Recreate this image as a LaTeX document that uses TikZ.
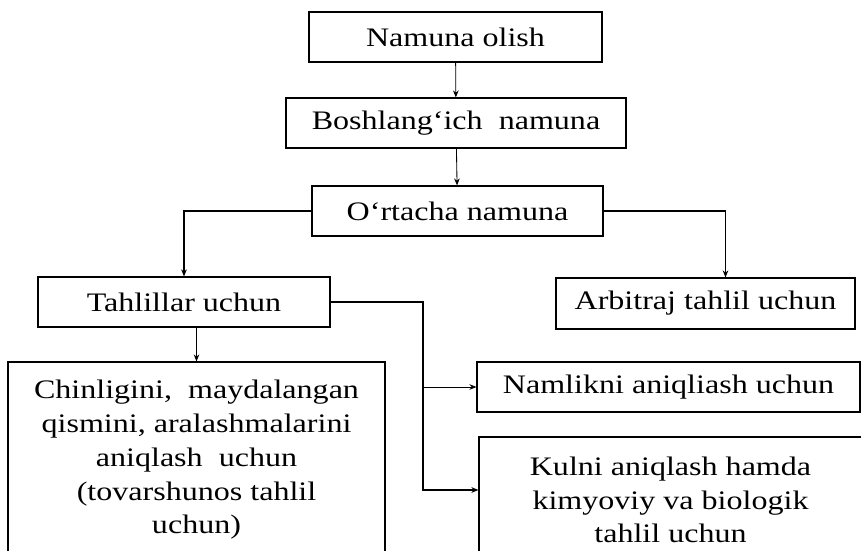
\documentclass[tikz,border=0pt]{standalone}
\usepackage{fontspec}
\setmainfont[FakeStretch=1.2]{Liberation Serif}
\usepackage{tikz}
\usetikzlibrary{arrows.meta}
\tikzset{
    boxnode/.style = {align=center, inner sep=0pt, text centered},
    step_box/.style = {boxnode, rectangle, draw=black, line width=0.8pt, minimum height=1.25cm,
                       font=\fontsize{19}{24}\selectfont},
    thin_link/.style = {->, line width=0.6pt},
    thick_link/.style = {->, line width=1.4pt}
}

\begin{document}
\begin{tikzpicture}[>={Stealth[length=5pt,width=4pt]}]
            \useasboundingbox (0,0) rectangle (21.525,-13.775);

            % chain of samples
            \node (olish) [step_box, minimum width=7.325cm] at (11.3875,-0.925) {Namuna olish};
            \node (bosh) [step_box, minimum width=8.5cm] at (11.4,-3.075) {Boshlang‘ich\ \ namuna};
            \node (ortacha) [step_box, minimum width=7.275cm] at (11.4375,-5.275) {O‘rtacha namuna};

            % second level
            \node (tahlil) [step_box, minimum width=7.3cm] at (4.6,-7.55) {Tahlillar uchun};
            \node (arbitraj) [step_box, minimum width=7.475cm, minimum height=1.275cm] at (17.6375,-7.5875) {Arbitraj tahlil uchun};

            % analyses
            \node (chin) [step_box, minimum width=9.425cm, minimum height=4.9cm] at (4.9125,-11.5)
                {Chinligini,\ \ maydalangan\\ qismini, aralashmalarini\\ aniqlash\ \ uchun\\ (tovarshunos tahlil\\ uchun)};
            \node (namlik) [step_box, minimum width=9.575cm] at (16.7125,-9.675) {Namlikni aniqliash uchun};
            \node (kul) [step_box, minimum width=9.575cm, minimum height=3.15cm] at (16.7625,-12.5)
                {Kulni aniqlash hamda\\ kimyoviy va biologik\\ tahlil uchun};

            \coordinate (bus) at (10.575,0);
            \coordinate (kul_in) at ([yshift=0.25cm]kul.west);

            \draw [thin_link] (olish) -- (bosh);
            \draw [thin_link] (bosh) -- (ortacha);
            \draw [thick_link] (ortacha.west) -| (tahlil.north);
            \draw [thick_link] (ortacha.east) -| ([xshift=0.5cm]arbitraj.north);
            \draw [thin_link] (tahlil.south -| chin.north) -- (chin.north);
            \draw [thick_link] (tahlil.east) -| (bus |- kul_in) -- (kul_in);
            \draw [thin_link] (bus |- namlik.west) -- (namlik.west);
\end{tikzpicture}
\end{document}
